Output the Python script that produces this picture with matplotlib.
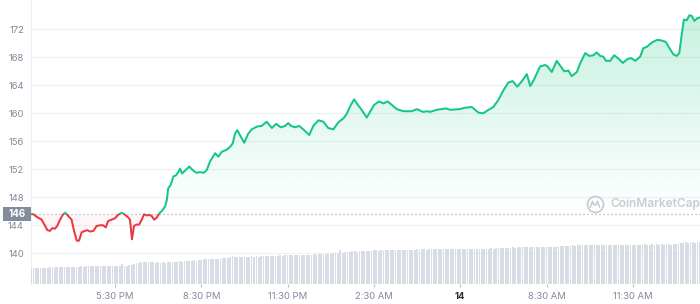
import numpy as np
import matplotlib
matplotlib.use("Agg")
import matplotlib.pyplot as plt
import matplotlib.transforms as mtransforms
from matplotlib.patches import Rectangle
from matplotlib.path import Path

plt.rcParams['font.family'] = ['Inter', 'DejaVu Sans']

# ---------------- data ----------------
# time in hours after 12:00 of day 13 (5:30 PM = 5.5)
times = [2.58, 2.66, 2.78, 2.95, 3.07, 3.15, 3.24, 3.32, 3.41, 3.49,
         3.59, 3.70, 3.77, 3.88, 3.99, 4.07, 4.17, 4.25, 4.34, 4.46,
         4.54, 4.63, 4.75, 4.86, 4.98, 5.09, 5.18, 5.26, 5.38, 5.50,
         5.61, 5.73, 5.85, 5.96, 6.02, 6.09, 6.16, 6.25, 6.34, 6.43,
         6.51, 6.60, 6.69, 6.78, 6.86, 6.95, 7.04, 7.14, 7.24, 7.30,
         7.35, 7.44, 7.53, 7.61, 7.70, 7.76, 7.83, 7.93, 8.08, 8.22,
         8.34, 8.45, 8.59, 8.69, 8.80, 8.98, 9.09, 9.21, 9.38, 9.50,
         9.59, 9.67, 9.75, 9.84, 9.99, 10.13, 10.25, 10.43, 10.60, 10.77,
         10.95, 11.10, 11.26, 11.41, 11.52, 11.62, 11.76, 11.90, 12.07, 12.25,
         12.39, 12.57, 12.74, 12.91, 13.09, 13.26, 13.44, 13.55, 13.67, 13.81,
         13.94, 14.07, 14.25, 14.36, 14.50, 14.68, 14.83, 14.97, 15.12, 15.29,
         15.52, 15.81, 15.99, 16.20, 16.36, 16.45, 16.68, 17.01, 17.14, 17.49,
         17.66, 17.90, 18.13, 18.30, 18.48, 18.65, 18.82, 19.00, 19.17, 19.32,
         19.48, 19.64, 19.81, 19.93, 20.06, 20.27, 20.45, 20.53, 20.68, 20.85,
         20.99, 21.11, 21.26, 21.37, 21.55, 21.66, 21.84, 21.98, 22.13, 22.24,
         22.36, 22.47, 22.56, 22.71, 22.85, 23.00, 23.15, 23.29, 23.43, 23.58,
         23.75, 23.86, 23.98, 24.19, 24.35, 24.50, 24.64, 24.77, 24.91, 25.02,
         25.11, 25.20, 25.27, 25.37, 25.46, 25.55, 25.63, 25.74, 25.83]

prices = [145.6, 145.6, 145.2, 144.8, 143.9, 143.3, 143.2, 143.6, 143.5, 143.9,
          144.8, 145.6, 145.8, 145.3, 144.8, 143.3, 141.8, 141.8, 143.0, 143.2,
          143.3, 143.1, 143.2, 143.9, 144.0, 144.0, 143.7, 144.6, 144.8, 145.0,
          145.5, 145.8, 145.5, 145.1, 144.8, 142.0, 143.9, 144.1, 144.1, 144.8,
          145.6, 145.4, 145.5, 145.3, 144.8, 145.1, 145.7, 146.1, 146.7, 147.6,
          149.3, 149.8, 151.0, 151.1, 151.6, 152.1, 151.4, 151.8, 152.4, 151.8,
          151.5, 151.6, 151.5, 151.9, 153.1, 154.3, 153.8, 154.5, 154.8, 155.2,
          155.7, 157.1, 157.6, 156.9, 155.8, 157.1, 157.7, 158.1, 158.2, 158.8,
          157.9, 158.5, 158.0, 158.2, 158.6, 158.2, 158.0, 158.2, 157.6, 156.9,
          158.2, 159.0, 158.8, 157.9, 157.7, 158.7, 159.3, 159.9, 161.0, 162.0,
          161.2, 160.5, 159.4, 160.2, 161.2, 161.7, 161.4, 161.7, 161.2, 160.6,
          160.3, 160.3, 160.6, 160.2, 160.3, 160.2, 160.5, 160.7, 160.5, 160.6,
          160.8, 160.9, 160.1, 160.0, 160.5, 160.9, 161.9, 163.3, 164.4, 164.6,
          163.8, 164.6, 165.6, 163.9, 164.8, 166.7, 166.9, 166.7, 165.9, 167.5,
          166.7, 166.0, 166.1, 165.3, 165.9, 167.1, 168.6, 168.2, 168.3, 168.7,
          168.2, 168.1, 167.5, 167.5, 168.3, 167.8, 167.2, 167.7, 167.9, 167.5,
          168.1, 169.3, 169.5, 170.2, 170.5, 170.4, 170.2, 169.3, 168.4, 168.2,
          168.6, 171.4, 173.4, 173.3, 174.0, 173.9, 173.2, 173.6, 173.7]

open_price = 145.57
open_label = "146"

vol_start = 2.58          # first 5-minute volume bar (hours)
vol_step = 1.0 / 12.0     # 5 minutes
volumes = [
    5.7, 5.8, 5.7, 5.7, 5.8, 5.7, 5.6, 5.7, 6.0, 6.0, 6.1, 6.0, 6.1, 6.0, 6.0, 6.1, 5.9, 6.0, 6.1, 6.0,
    6.1, 6.2, 6.1, 6.2, 6.3, 6.2, 6.2, 6.3, 6.2, 6.3, 6.3, 6.4, 6.3, 6.3, 6.4, 6.3, 6.4, 6.3, 7.2, 6.4,
    6.5, 6.6, 6.7, 7.0, 7.3, 7.5, 7.8, 7.9, 7.8, 7.7, 7.6, 7.6, 7.5, 7.6, 7.5, 7.6, 7.5, 7.7, 7.6, 7.7,
    7.8, 7.9, 8.0, 7.9, 8.1, 8.2, 8.1, 8.2, 8.3, 8.2, 8.4, 8.5, 8.8, 8.7, 8.8, 8.8, 8.7, 8.8, 8.9, 8.8,
    9.0, 9.1, 9.3, 9.4, 9.8, 9.4, 9.5, 9.4, 9.5, 9.6, 9.5, 9.6, 9.7, 9.6, 9.7, 9.6, 9.7, 9.8, 9.7, 9.8,
    9.8, 9.9, 9.8, 10.0, 10.1, 10.0, 10.1, 10.2, 10.1, 10.2, 10.2, 10.1, 10.2, 10.3, 10.2, 10.3, 10.2, 10.3, 10.4, 10.3,
    10.4, 10.5, 10.6, 10.7, 10.6, 10.7, 10.8, 10.8, 10.9, 12.1, 11.0, 11.2, 11.3, 11.4, 11.5, 11.5, 11.4, 11.6, 11.5, 11.6,
    11.6, 11.7, 11.7, 11.8, 11.8, 11.7, 11.9, 11.8, 11.9, 12.0, 11.9, 12.0, 12.0, 12.1, 12.0, 12.1, 12.0, 12.1, 12.0, 12.1,
    12.1, 12.2, 12.1, 12.2, 12.2, 12.1, 12.2, 12.3, 12.2, 12.2, 12.3, 12.2, 12.3, 12.2, 12.3, 12.3, 12.4, 12.3, 12.4, 12.3,
    12.3, 12.4, 12.3, 12.4, 12.3, 12.4, 12.5, 12.4, 12.5, 12.4, 12.5, 12.5, 12.6, 12.5, 12.6, 12.6, 12.7, 12.6, 12.7, 12.8,
    12.8, 12.9, 12.8, 12.9, 13.0, 12.9, 13.0, 13.1, 13.0, 13.0, 13.1, 13.0, 13.1, 13.2, 13.1, 13.1, 13.2, 13.1, 13.2, 13.2,
    13.3, 13.4, 13.5, 13.4, 13.5, 13.5, 13.6, 13.5, 13.6, 13.6, 13.7, 13.6, 13.7, 13.6, 13.7, 13.7, 13.6, 13.7, 13.7, 13.8,
    13.8, 13.7, 13.8, 13.8, 13.9, 13.8, 13.9, 13.8, 13.9, 13.9, 13.8, 13.9, 13.9, 13.8, 13.9, 13.9, 14.0, 13.9, 13.9, 14.0,
    13.9, 14.0, 13.9, 14.0, 13.9, 14.0, 14.0, 13.9, 14.0, 14.1, 14.3, 14.5, 14.6, 14.7, 14.6, 14.7, 14.7, 14.6, 14.7, 14.7,
]

y_ticks = [140, 144, 148, 152, 156, 160, 164, 168, 172]
x_tick_pos = [5.5, 8.5, 11.5, 14.5, 17.5, 20.5, 23.5]
x_tick_labels = ['5:30 PM', '8:30 PM', '11:30 PM', '2:30 AM', '14', '8:30 AM', '11:30 AM']

# ---------------- style ----------------
GREEN = '#16c784'
RED = '#ea3943'
GRID = '#eff2f5'
TXT = '#808a9d'
XMIN, XMAX = 2.58, 25.83
YMIN, YMAX = 135.61, 176.19

fig = plt.figure(figsize=(7.0, 3.04), dpi=100)
ax = fig.add_axes([31 / 700, 20 / 304, 669 / 700, 284 / 304])

t = np.array(times)
p = np.array(prices)

# gradient fill above open price
gfill = ax.fill_between(t, p, open_price, where=p >= open_price, interpolate=True,
                        facecolor='none', edgecolor='none')
grad = np.zeros((256, 1, 4))
grad[..., 0] = 22 / 255
grad[..., 1] = 199 / 255
grad[..., 2] = 132 / 255
grad[..., 3] = np.linspace(0.0, 0.24, 256)[:, None]
im = ax.imshow(grad, extent=(XMIN, XMAX, open_price, max(prices)), origin='lower',
               aspect='auto', zorder=1, interpolation='bilinear')
clip = Path.make_compound_path(*gfill.get_paths())
im.set_clip_path(clip, ax.transData)

# faint red fill below open price
ax.fill_between(t, p, open_price, where=p <= open_price, interpolate=True,
                facecolor=RED, alpha=0.045, lw=0, zorder=1)

# price line, green above / red below open price
rect_up = Rectangle((0, open_price), 40, 100, transform=ax.transData)
rect_dn = Rectangle((0, open_price - 100), 40, 100, transform=ax.transData)
lg, = ax.plot(t, p, color=GREEN, lw=1.45, zorder=3, solid_joinstyle='round')
lg.set_clip_path(rect_up)
lr, = ax.plot(t, p, color=RED, lw=1.45, zorder=3, solid_joinstyle='round')
lr.set_clip_path(rect_dn)

# dotted open line
ax.axhline(open_price, color='#a9afbb', lw=0.9, ls=(0, (1, 2.2)), zorder=2)

ax.set_xlim(XMIN, XMAX)
ax.set_ylim(YMIN, YMAX)
ax.set_yticks(y_ticks)
ax.set_yticklabels([str(v) for v in y_ticks])
ax.set_xticks(x_tick_pos)
ax.set_xticklabels(x_tick_labels)
ax.grid(axis='y', color=GRID, lw=0.9)
ax.set_axisbelow(True)
for s in ['top', 'right', 'bottom']:
    ax.spines[s].set_visible(False)
ax.spines['left'].set_color('#eceff3')
ax.spines['left'].set_linewidth(0.8)
ax.tick_params(axis='y', length=0, pad=5, labelsize=6.8, labelcolor=TXT)
ax.tick_params(axis='x', length=2.5, width=0.8, color='#b8bec8', pad=3.5,
               labelsize=6.8, labelcolor=TXT)
lab14 = ax.get_xticklabels()[4]
lab14.set_fontweight('bold')
lab14.set_color('#2b2f3a')

# open price tag
blend = mtransforms.blended_transform_factory(ax.transAxes, ax.transData)
ax.add_patch(Rectangle((-28 / 669, open_price - 0.98), 28 / 669, 1.96, transform=blend,
                       facecolor='#858c99', edgecolor='none', clip_on=False, zorder=5))
ax.text(-14 / 669, open_price, open_label, transform=blend, ha='center', va='center',
        color='white', fontsize=7, fontweight='bold', zorder=6, clip_on=False)

# watermark
WM = '#c8ccd3'
ax.text(0.8655, 0.282, 'CoinMarketCap', transform=ax.transAxes, fontsize=8.6,
        color=WM, fontweight='semibold', va='center', ha='left', zorder=2)
cx, cy = 0.843, 0.282
ax.plot([cx], [cy], marker='o', ms=11.5, mfc='none', mec=WM, mew=1.3,
        transform=ax.transAxes, zorder=2)
wx = np.array([-4.5, -2.5, -0.8, 0.8, 2.5, 4.5])
wy = np.array([-3.0, 2.5, -1.0, -1.0, 2.5, -3.0])
ax.plot(cx + wx / 669, cy + wy / 284, color=WM, lw=1.2, transform=ax.transAxes, zorder=2)

# volume bars
ax2 = ax.twinx()
ax2.set_ylim(0, 100)
ax2.axis('off')
bar_t = vol_start + np.arange(len(volumes)) * vol_step
ax2.bar(bar_t, volumes, width=0.062, color='#d8dce4', lw=0)
ax2.set_xlim(XMIN, XMAX)

fig.savefig('out.png', dpi=100)
